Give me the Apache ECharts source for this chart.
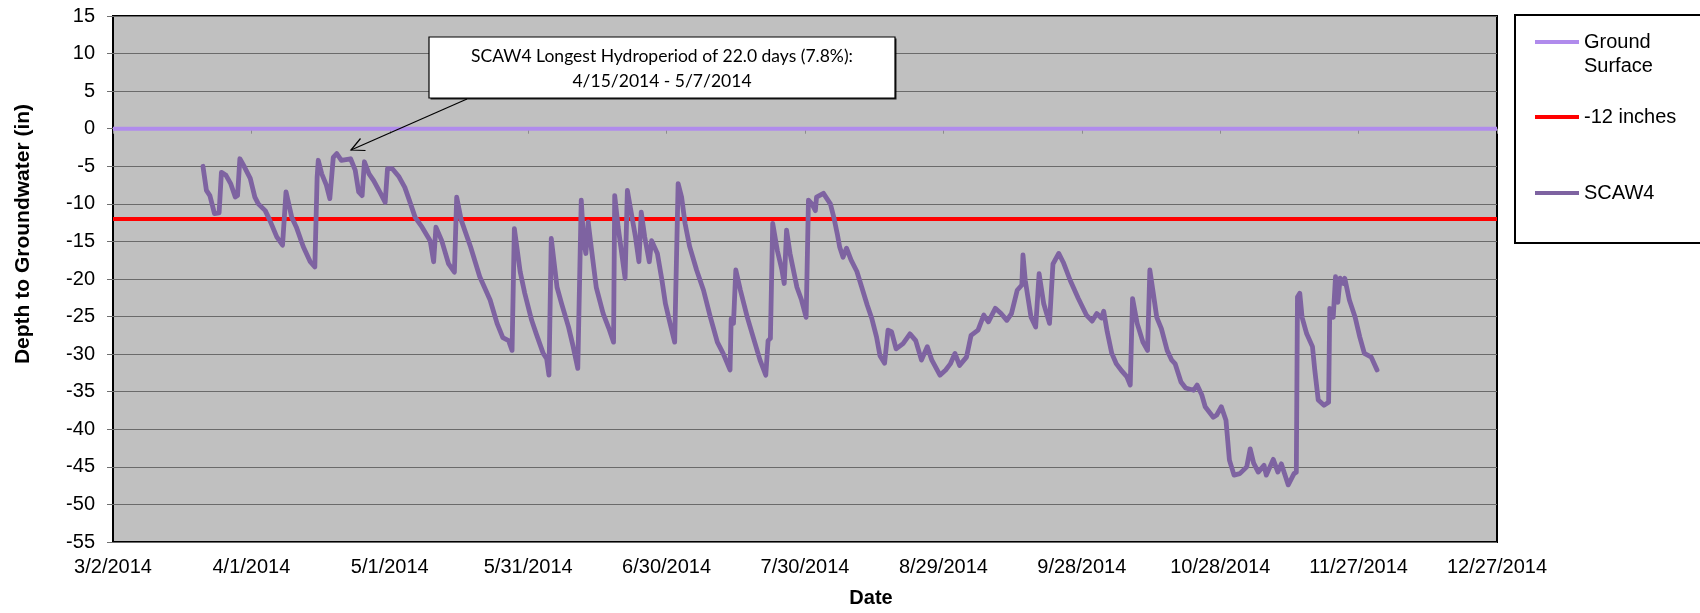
<!DOCTYPE html>
<html>
<head>
<meta charset="utf-8">
<script src="https://cdn.jsdelivr.net/npm/echarts@6/dist/echarts.min.js"></script>
<style>
  html, body { margin: 0; padding: 0; background: #ffffff; }
  #chart { width: 1700px; height: 613px; }
</style>
</head>
<body>
<div id="chart"></div>
<script>
// ---------------- DATA ----------------
const axisStartDate = '3/2/2014';
const axisEndDate = '12/27/2014';
const xTickIntervalDays = 30;
const yMin = -55, yMax = 15, yInterval = 5;

const groundSurfaceDepth = 0;      // Ground Surface (in)
const thresholdDepth = -12;        // -12 inches

// SCAW4 readings (date/time) and depth to groundwater (in)
const scaw4Times = [
  '3/21/2014 12:00','3/22/2014 06:00','3/23/2014 00:00','3/24/2014 00:00','3/25/2014 00:00','3/25/2014 12:00',
  '3/26/2014 12:00','3/27/2014 12:00','3/28/2014 12:00','3/29/2014 00:00','3/29/2014 12:00','3/30/2014 12:00',
  '3/31/2014 18:00','4/1/2014 18:00','4/2/2014 12:00','4/4/2014 00:00','4/5/2014 00:00','4/6/2014 12:00',
  '4/7/2014 18:00','4/8/2014 12:00','4/9/2014 18:00','4/10/2014 18:00','4/12/2014 06:00','4/13/2014 18:00',
  '4/14/2014 18:00','4/15/2014 06:00','4/15/2014 12:00','4/16/2014 06:00','4/17/2014 06:00','4/18/2014 00:00',
  '4/18/2014 18:00','4/19/2014 12:00','4/20/2014 12:00','4/22/2014 12:00','4/23/2014 12:00','4/24/2014 06:00',
  '4/25/2014 00:00','4/25/2014 12:00','4/26/2014 12:00','4/27/2014 12:00','4/29/2014 00:00','4/30/2014 00:00',
  '4/30/2014 12:00','5/1/2014 12:00','5/3/2014 00:00','5/4/2014 06:00','5/5/2014 00:00','5/6/2014 12:00',
  '5/8/2014 00:00','5/9/2014 18:00','5/10/2014 12:00','5/11/2014 00:00','5/12/2014 06:00','5/13/2014 18:00',
  '5/15/2014 00:00','5/15/2014 12:00','5/16/2014 12:00','5/18/2014 12:00','5/20/2014 12:00','5/22/2014 18:00',
  '5/24/2014 06:00','5/25/2014 12:00','5/26/2014 18:00','5/27/2014 12:00','5/28/2014 00:00','5/29/2014 06:00',
  '5/30/2014 06:00','5/31/2014 18:00','6/1/2014 18:00','6/3/2014 06:00','6/4/2014 00:00','6/4/2014 12:00',
  '6/5/2014 00:00','6/6/2014 06:00','6/7/2014 06:00','6/8/2014 18:00','6/9/2014 18:00','6/10/2014 18:00',
  '6/11/2014 12:00','6/12/2014 00:00','6/12/2014 12:00','6/13/2014 00:00','6/13/2014 18:00','6/14/2014 18:00',
  '6/16/2014 06:00','6/17/2014 12:00','6/18/2014 12:00','6/18/2014 18:00','6/19/2014 12:00','6/21/2014 00:00',
  '6/21/2014 12:00','6/22/2014 00:00','6/23/2014 06:00','6/24/2014 00:00','6/24/2014 12:00','6/25/2014 06:00',
  '6/26/2014 06:00','6/26/2014 18:00','6/28/2014 00:00','6/29/2014 00:00','6/29/2014 18:00','6/30/2014 18:00',
  '7/1/2014 18:00','7/2/2014 12:00','7/3/2014 06:00','7/4/2014 00:00','7/5/2014 00:00','7/6/2014 12:00',
  '7/8/2014 00:00','7/9/2014 12:00','7/11/2014 00:00','7/12/2014 06:00','7/13/2014 18:00','7/14/2014 00:00',
  '7/14/2014 12:00','7/15/2014 00:00','7/16/2014 00:00','7/17/2014 12:00','7/18/2014 18:00','7/20/2014 06:00',
  '7/21/2014 12:00','7/22/2014 00:00','7/22/2014 12:00','7/23/2014 00:00','7/24/2014 00:00','7/25/2014 00:00',
  '7/25/2014 12:00','7/26/2014 00:00','7/26/2014 18:00','7/28/2014 06:00','7/29/2014 06:00','7/30/2014 06:00',
  '7/30/2014 18:00','7/31/2014 12:00','8/1/2014 06:00','8/1/2014 12:00','8/3/2014 00:00','8/4/2014 12:00',
  '8/5/2014 06:00','8/6/2014 00:00','8/6/2014 12:00','8/7/2014 06:00','8/8/2014 00:00','8/9/2014 00:00',
  '8/10/2014 06:00','8/11/2014 12:00','8/12/2014 12:00','8/13/2014 12:00','8/14/2014 12:00','8/15/2014 06:00',
  '8/16/2014 06:00','8/17/2014 00:00','8/17/2014 18:00','8/18/2014 18:00','8/20/2014 06:00','8/21/2014 18:00',
  '8/23/2014 00:00','8/24/2014 06:00','8/25/2014 12:00','8/26/2014 12:00','8/28/2014 06:00','8/29/2014 12:00',
  '8/30/2014 12:00','8/31/2014 12:00','9/1/2014 12:00','9/3/2014 00:00','9/4/2014 00:00','9/5/2014 12:00',
  '9/6/2014 18:00','9/7/2014 18:00','9/9/2014 06:00','9/10/2014 12:00','9/11/2014 18:00','9/12/2014 18:00',
  '9/14/2014 00:00','9/15/2014 00:00','9/15/2014 06:00','9/15/2014 18:00','9/17/2014 00:00','9/18/2014 00:00',
  '9/18/2014 18:00','9/19/2014 18:00','9/21/2014 00:00','9/21/2014 18:00','9/23/2014 00:00','9/24/2014 00:00',
  '9/25/2014 12:00','9/27/2014 06:00','9/29/2014 00:00','9/30/2014 06:00','10/1/2014 06:00','10/2/2014 06:00',
  '10/2/2014 18:00','10/3/2014 12:00','10/4/2014 12:00','10/5/2014 12:00','10/6/2014 18:00','10/7/2014 18:00',
  '10/8/2014 12:00','10/9/2014 00:00','10/10/2014 00:00','10/11/2014 06:00','10/12/2014 06:00','10/12/2014 18:00',
  '10/13/2014 12:00','10/14/2014 06:00','10/15/2014 06:00','10/16/2014 12:00','10/17/2014 12:00','10/18/2014 06:00',
  '10/19/2014 12:00','10/20/2014 12:00','10/22/2014 06:00','10/23/2014 00:00','10/24/2014 00:00','10/24/2014 18:00',
  '10/26/2014 12:00','10/27/2014 06:00','10/28/2014 06:00','10/29/2014 06:00','10/30/2014 00:00','10/31/2014 00:00',
  '11/1/2014 06:00','11/2/2014 18:00','11/3/2014 12:00','11/4/2014 06:00','11/5/2014 06:00','11/6/2014 12:00',
  '11/7/2014 00:00','11/8/2014 12:00','11/9/2014 12:00','11/10/2014 06:00','11/11/2014 18:00','11/13/2014 00:00',
  '11/13/2014 12:00','11/13/2014 18:00','11/14/2014 06:00','11/14/2014 18:00','11/15/2014 18:00','11/17/2014 00:00',
  '11/17/2014 12:00','11/18/2014 06:00','11/19/2014 12:00','11/20/2014 12:00','11/20/2014 18:00','11/21/2014 12:00',
  '11/22/2014 00:00','11/22/2014 12:00','11/23/2014 00:00','11/23/2014 18:00','11/24/2014 00:00','11/25/2014 00:00',
  '11/26/2014 06:00','11/27/2014 06:00','11/28/2014 06:00','11/29/2014 18:00','12/1/2014 00:00'
];
const scaw4Depths = [
  -5.0,-8.2,-8.9,-11.3,-11.2,-5.8,
  -6.2,-7.3,-9.1,-8.9,-4.0,-5.1,
  -6.6,-9.1,-10.0,-10.9,-12.2,-14.4,
  -15.5,-8.4,-11.8,-13.1,-15.7,-17.7,
  -18.4,-6.4,-4.2,-6.0,-7.5,-9.3,
  -3.8,-3.3,-4.2,-4.0,-5.5,-8.4,
  -8.9,-4.4,-6.0,-6.9,-8.6,-9.8,
  -5.3,-5.3,-6.4,-7.8,-9.1,-11.8,
  -13.1,-14.9,-17.7,-13.1,-14.9,-18.0,
  -19.1,-9.1,-12.2,-15.7,-19.7,-22.8,
  -25.9,-27.8,-28.2,-29.5,-13.3,-19.0,
  -21.9,-25.5,-27.3,-29.9,-30.6,-32.8,
  -14.6,-21.1,-23.3,-26.4,-29.0,-31.9,
  -9.5,-14.9,-16.6,-12.4,-16.2,-21.1,
  -24.6,-26.6,-28.4,-8.9,-13.1,-19.9,
  -8.2,-10.0,-14.4,-17.7,-11.1,-14.4,
  -17.7,-14.9,-16.6,-20.2,-23.3,-25.9,
  -28.4,-7.3,-9.1,-12.6,-15.7,-18.8,
  -21.5,-25.1,-28.4,-29.9,-32.1,-25.3,
  -25.9,-18.8,-21.5,-25.1,-27.7,-30.8,
  -32.8,-28.2,-27.9,-12.6,-16.2,-18.8,
  -20.6,-13.5,-16.6,-21.1,-22.8,-25.1,
  -9.5,-10.0,-10.9,-9.1,-8.6,-10.0,
  -11.8,-14.0,-15.7,-17.1,-15.9,-17.5,
  -19.0,-21.5,-23.5,-25.3,-27.7,-30.2,
  -31.2,-26.8,-27.0,-29.3,-28.6,-27.3,
  -28.2,-30.8,-29.0,-30.8,-32.8,-32.1,
  -31.3,-29.9,-31.5,-30.4,-27.5,-26.8,
  -24.8,-25.7,-23.9,-24.6,-25.5,-24.6,
  -21.5,-20.8,-16.8,-20.2,-25.1,-26.4,
  -19.3,-23.3,-25.9,-18.0,-16.6,-17.8,
  -20.2,-22.6,-24.8,-25.6,-24.6,-25.2,
  -24.3,-27.0,-29.9,-31.3,-32.3,-33.0,
  -34.1,-22.6,-25.9,-28.4,-29.5,-18.8,
  -21.9,-25.1,-26.6,-29.5,-30.8,-31.3,
  -33.7,-34.5,-34.8,-34.1,-35.4,-37.0,
  -38.4,-38.1,-37.0,-38.8,-44.1,-46.1,
  -45.9,-45.0,-42.6,-44.5,-45.7,-44.8,
  -46.1,-44.0,-45.7,-44.6,-47.4,-45.9,
  -45.7,-22.4,-21.9,-25.1,-27.3,-29.0,
  -32.1,-36.1,-36.8,-36.4,-23.9,-25.1,
  -19.7,-23.1,-19.9,-20.6,-19.9,-22.8,
  -25.1,-27.7,-29.9,-30.4,-32.1
];

const annotationLines = [
  'SCAW4 Longest Hydroperiod of 22.0 days (7.8%):',
  '4/15/2014 - 5/7/2014'
];

// ---------------- HELPERS ----------------
function parseMDY(s) {
  const m = s.match(/^(\d+)\/(\d+)\/(\d+)(?:\s+(\d+):(\d+))?$/);
  return Date.UTC(+m[3], +m[1] - 1, +m[2], m[4] ? +m[4] : 0, m[5] ? +m[5] : 0);
}
const DAY = 86400000;
const t0 = parseMDY(axisStartDate);
const toDays = s => (parseMDY(s) - t0) / DAY;
const xMax = toDays(axisEndDate);
function dayLabel(v) {
  const d = new Date(t0 + Math.round(v) * DAY);
  return (d.getUTCMonth() + 1) + '/' + d.getUTCDate() + '/' + d.getUTCFullYear();
}

const scaw4Data = scaw4Times.map((t, i) => [toDays(t), scaw4Depths[i]]);
const groundData = [[0, groundSurfaceDepth], [xMax, groundSurfaceDepth]];
const thresholdData = [[0, thresholdDepth], [xMax, thresholdDepth]];

// ---------------- CHART ----------------
const FONT = '"Liberation Sans", Arial, sans-serif';
const chart = echarts.init(document.getElementById('chart'), null, { renderer: 'canvas' });

const legendText = { fontFamily: FONT, fontSize: 20, color: '#000', lineHeight: 24 };
const legendBase = {
  left: 1535, orient: 'vertical', padding: 0, icon: 'rect',
  itemWidth: 44, itemHeight: 4, selectedMode: false, z: 10, textStyle: legendText
};

chart.setOption({
  animation: false,
  backgroundColor: '#ffffff',
  grid: {
    left: 113, right: 203, top: 16, bottom: 71,
    show: true, backgroundColor: '#C0C0C0', borderColor: '#000000', borderWidth: 2
  },
  xAxis: {
    type: 'value', min: 0, max: xMax, interval: xTickIntervalDays,
    axisLine: { show: false },
    axisTick: { show: true, length: 5, lineStyle: { color: '#8c8c8c', width: 1 } },
    splitLine: { show: false },
    axisLabel: { formatter: dayLabel, fontFamily: FONT, fontSize: 20, color: '#000', margin: 15, showMaxLabel: true, showMinLabel: true }
  },
  yAxis: {
    type: 'value', min: yMin, max: yMax, interval: yInterval,
    axisLine: { show: false },
    axisTick: { show: true, length: 6, lineStyle: { color: '#707070', width: 1 } },
    splitLine: { show: true, lineStyle: { color: '#6a6a6a', width: 1 } },
    axisLabel: { fontFamily: FONT, fontSize: 20, color: '#000', margin: 18 }
  },
  legend: [
    Object.assign({}, legendBase, { data: ['Ground Surface'], top: 6, formatter: () => ' \nGround\nSurface' }),
    Object.assign({}, legendBase, { data: ['-12 inches'], top: 105 }),
    Object.assign({}, legendBase, { data: ['SCAW4'], top: 181 })
  ],
  series: [
    {
      name: 'Ground Surface', type: 'line', data: groundData, symbol: 'none',
      lineStyle: { color: '#B08BEC', width: 4 }, itemStyle: { color: '#B08BEC' }, z: 3
    },
    {
      name: '-12 inches', type: 'line', data: thresholdData, symbol: 'none',
      lineStyle: { color: '#FF0000', width: 4 }, itemStyle: { color: '#FF0000' }, z: 3
    },
    {
      name: 'SCAW4', type: 'line', data: scaw4Data, symbol: 'none',
      lineStyle: { color: '#7E63A1', width: 4.8, join: 'round', cap: 'round' }, itemStyle: { color: '#7E63A1' }, z: 4
    }
  ],
  graphic: [
    // legend box
    { type: 'rect', z: 1, shape: { x: 1515, y: 15, width: 200, height: 228 },
      style: { fill: '#ffffff', stroke: '#000000', lineWidth: 2 } },
    // annotation callout
    { type: 'rect', z: 20, shape: { x: 430.5, y: 38.5, width: 466, height: 61 },
      style: { fill: '#000000', opacity: 0.85 } },
    { type: 'rect', z: 21, shape: { x: 429, y: 37, width: 466, height: 61 },
      style: { fill: '#ffffff', stroke: '#000000', lineWidth: 1.2 } },
    { type: 'text', z: 22, x: 662, y: 56, style: { text: annotationLines[0], align: 'center', verticalAlign: 'middle',
      font: '17.5px Lato, "Open Sans", sans-serif', fill: '#000' } },
    { type: 'text', z: 22, x: 662, y: 81, style: { text: annotationLines[1], align: 'center', verticalAlign: 'middle',
      font: '17.5px Lato, "Open Sans", sans-serif', fill: '#000' } },
    { type: 'line', z: 22, shape: { x1: 467, y1: 99, x2: 351, y2: 150 }, style: { stroke: '#000', lineWidth: 1.2 } },
    { type: 'polyline', z: 22, shape: { points: [[360.5, 138.5], [351, 150], [365.5, 150.5]] },
      style: { stroke: '#000', lineWidth: 1.2, fill: null } },
    // axis titles
    { type: 'text', z: 10, x: 23, y: 234, rotation: Math.PI / 2,
      style: { text: 'Depth to Groundwater (in)', align: 'center', verticalAlign: 'middle',
        font: 'bold 21px "Liberation Sans", Arial, sans-serif', fill: '#000' } },
    { type: 'text', z: 10, x: 871, y: 598,
      style: { text: 'Date', align: 'center', verticalAlign: 'middle',
        font: 'bold 20px "Liberation Sans", Arial, sans-serif', fill: '#000' } }
  ]
});
</script>
</body>
</html>
